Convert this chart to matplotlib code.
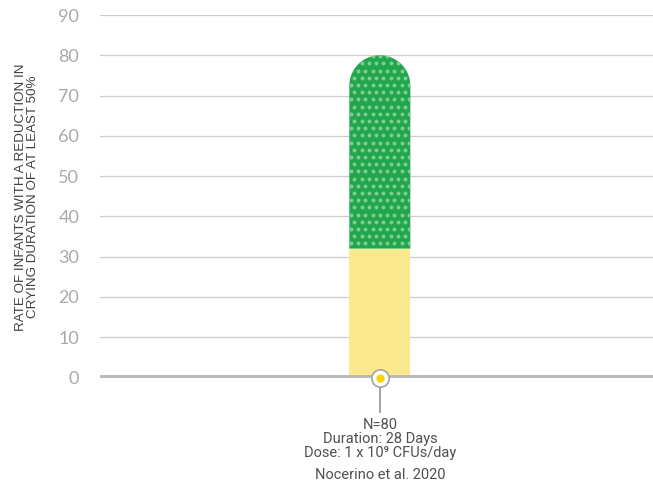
import numpy as np
import matplotlib
matplotlib.use("Agg")
import matplotlib.pyplot as plt
from matplotlib.patches import Polygon

# ---- data ----
categories = ["Nocerino et al. 2020"]
base_values = [32]        # yellow segment
total_values = [80]       # top of green segment
y_ticks = [0, 10, 20, 30, 40, 50, 60, 70, 80, 90]
y_label = "RATE OF INFANTS WITH A REDUCTION IN\nCRYING DURATION OF AT LEAST 50%"
study_lines = ["N=80", "Duration: 28 Days", "Dose: 1 x 10\u2079 CFUs/day"]
study_name = "Nocerino et al. 2020"

W, H, DPI = 653, 484, 100
fig = plt.figure(figsize=(W / DPI, H / DPI), dpi=DPI)
ax_l, ax_b, ax_r, ax_t = 100 / W, (H - 377.5) / H, 1.0, (H - 15) / H
ax = fig.add_axes([ax_l, ax_b, ax_r - ax_l, ax_t - ax_b])

xmin, xmax = -0.506, 0.494
ymin, ymax = 0, 90
ax.set_xlim(xmin, xmax)
ax.set_ylim(ymin, ymax)

ax_w_px = (ax_r - ax_l) * W
ax_h_px = (ax_t - ax_b) * H
px_x = ax_w_px / (xmax - xmin)
px_y = ax_h_px / (ymax - ymin)

GREEN = "#22a64b"
DOT = "#7fcc95"
YELLOW = "#fbe98d"

bar_w = 61 / px_x
xs = np.arange(len(categories))

# yellow base bar
ax.bar(xs, base_values, width=bar_w, color=YELLOW, zorder=2, linewidth=0)

# green rounded top segment
for x, b, t in zip(xs, base_values, total_values):
    r = bar_w / 2
    ry = r * px_x / px_y
    theta = np.linspace(0, np.pi, 80)
    arc = np.column_stack([x + r * np.cos(theta), (t - ry) + ry * np.sin(theta)])
    pts = np.vstack([[x - r, b], [x + r, b], arc, [x - r, b]])
    poly = Polygon(pts, closed=True, facecolor=GREEN, edgecolor="none", zorder=2)
    ax.add_patch(poly)
    # dotted texture
    sx, sy = 7.3 / px_x, 7.2 / px_y
    dx, dy = [], []
    for i, yy in enumerate(np.arange(t - 1.0 / px_y, b - sy, -sy)):
        off = 0 if i % 2 == 0 else sx / 2
        for xx in np.arange(x - 5 * sx + off, x + 5 * sx, sx):
            dx.append(xx)
            dy.append(yy)
    sc = ax.scatter(dx, dy, s=8, color=DOT, linewidths=0, zorder=3)
    sc.set_clip_path(poly)

# grid
for yv in y_ticks[1:]:
    ax.axhline(yv, color="#cccccc", lw=0.9, zorder=1)
ax.axhline(0, color="#b9b9b9", lw=4.3, zorder=4, solid_capstyle="butt")

for s in ax.spines.values():
    s.set_visible(False)
ax.set_yticks(y_ticks)
ax.set_yticklabels([str(v) for v in y_ticks], color="#a9a9a9",
                   fontsize=13, family="Lato", fontweight="normal")
ax.tick_params(axis="y", length=0, pad=15)
ax.set_xticks([])

# marker + connector
for x in xs:
    ax.plot([x, x], [0, -34.5 / px_y], color="#9a9a9a", lw=1.3, zorder=4, clip_on=False)
    ax.plot([x], [0], marker="o", markersize=12.5, markerfacecolor="white",
            markeredgecolor="#a8a8a8", markeredgewidth=1.3, zorder=5, clip_on=False)
    ax.plot([x], [0], marker="o", markersize=6, markerfacecolor="#f5d50a",
            markeredgewidth=0, zorder=6, clip_on=False)
    for k, line in enumerate(study_lines):
        ax.annotate(line, xy=(x, 0), xytext=(0, -(47.5 + 14 * k) * 0.72),
                    textcoords="offset points", ha="center", va="center",
                    fontsize=10.5, color="#505050", family="Roboto")
    ax.annotate(study_name, xy=(x, 0), xytext=(0, -97.5 * 0.72),
                textcoords="offset points", ha="center", va="center",
                fontsize=10.5, color="#505050", family="Roboto")

fig.text(27 / W, (H - 197) / H, y_label, rotation=90, ha="center", va="center",
         multialignment="center", fontsize=9.6, color="#404040",
         family="Liberation Sans", linespacing=0.95)

fig.savefig("out.png", dpi=DPI)
